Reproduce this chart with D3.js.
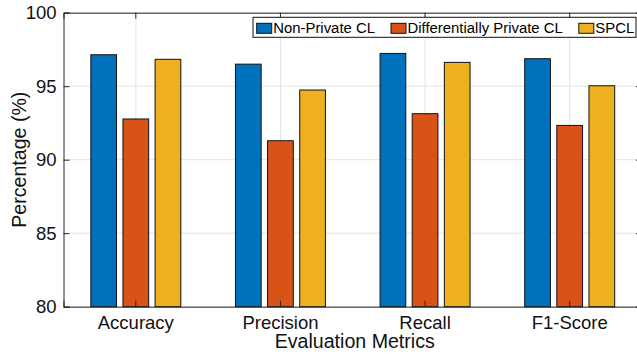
<!DOCTYPE html>
<html><head><meta charset="utf-8">
<script src="https://cdn.jsdelivr.net/npm/d3@7"></script>
<style>
html,body{margin:0;padding:0;background:#fff;}
svg{display:block;font-family:"Liberation Sans",Arial,Helvetica;}
</style></head>
<body><svg id="c" width="637" height="354"></svg>
<script>
const categories = ["Accuracy", "Precision", "Recall", "F1-Score"];
const seriesNames = ["Non-Private CL", "Differentially Private CL", "SPCL"];
const nonPrivate = [97.14, 96.5, 97.23, 96.87];
const diffPrivate = [92.77, 91.29, 93.13, 92.33];
const spcl = [96.83, 94.74, 96.62, 95.03];
const yTicks = [80, 85, 90, 95, 100];
const colors = ["#0072BD", "#D95319", "#EDB120"];
const seriesValues = [nonPrivate, diffPrivate, spcl];

const svg = d3.select("#c");
const L = 63.5, R = 642, T = 12.7, B = 306.7;
const axisCol = "#262626";
const FF = "'Liberation Sans',Arial,Helvetica";

const x = d3.scaleBand().domain(categories).range([L, R]).padding(0);
const bw = x.bandwidth();
const xs = d3.scaleBand().domain(seriesNames)
  .range([bw/2 - bw/3, bw/2 + bw/3]).paddingInner(0.2).paddingOuter(0.1);
const y = d3.scaleLinear().domain([80, 100]).range([B, T]);

// grid
const g = svg.append("g");
g.selectAll("line.hg").data(yTicks).join("line")
  .attr("x1", L).attr("x2", R).attr("y1", d => y(d)).attr("y2", d => y(d))
  .attr("stroke", "#e3e3e3").attr("stroke-width", 1);
g.selectAll("line.vg").data(categories).join("line")
  .attr("x1", d => x(d) + bw/2).attr("x2", d => x(d) + bw/2)
  .attr("y1", T).attr("y2", B)
  .attr("stroke", "#e3e3e3").attr("stroke-width", 1);

// bars
const data = [];
categories.forEach((c, i) => seriesNames.forEach((s, j) => data.push({c, s, j, v: seriesValues[j][i]})));
svg.append("g").selectAll("rect").data(data).join("rect")
  .attr("x", d => x(d.c) + xs(d.s))
  .attr("width", xs.bandwidth())
  .attr("y", d => y(d.v))
  .attr("height", d => y(80) - y(d.v))
  .attr("fill", d => colors[d.j])
  .attr("stroke", "#111").attr("stroke-width", 1);

// axes
const ax = svg.append("g");
const yAx = d3.axisLeft(y).tickValues(yTicks).tickSize(-6).tickPadding(7).tickFormat(d3.format("d"));
ax.append("g").attr("transform", `translate(${L},0)`).call(yAx)
  .call(s => { s.attr("font-family", null); s.select(".domain").attr("stroke", axisCol);
    s.selectAll(".tick line").attr("stroke", axisCol);
    s.selectAll(".tick text").attr("fill", "#111").style("font-size", "18.5px").style("font-family", FF); });
const yAxR = d3.axisRight(y).tickValues(yTicks).tickSize(-6).tickFormat("");
ax.append("g").attr("transform", `translate(${R},0)`).call(yAxR)
  .call(s => { s.select(".domain").attr("stroke", axisCol); s.selectAll(".tick line").attr("stroke", axisCol); });
const xAx = d3.axisBottom(x).tickSize(-6).tickPadding(9);
ax.append("g").attr("transform", `translate(0,${B})`).call(xAx)
  .call(s => { s.attr("font-family", null); s.select(".domain").attr("stroke", axisCol);
    s.selectAll(".tick line").attr("stroke", axisCol);
    s.selectAll(".tick text").attr("fill", "#111").style("font-size", "18.5px").style("font-family", FF); });
const xAxT = d3.axisTop(x).tickSize(-6).tickFormat("");
ax.append("g").attr("transform", `translate(0,${T})`).call(xAxT)
  .call(s => { s.select(".domain").attr("stroke", axisCol); s.selectAll(".tick line").attr("stroke", axisCol); });

// labels
svg.append("text").attr("x", (L + R) / 2 + 2).attr("y", 348)
  .attr("text-anchor", "middle").style("font-size", "19.6px").attr("fill", "#111")
  .text("Evaluation Metrics");
svg.append("text").attr("transform", `translate(26,${(T + B) / 2}) rotate(-90)`)
  .attr("text-anchor", "middle").style("font-size", "19.6px").attr("fill", "#111")
  .text("Percentage (%)");

// legend
const lg = svg.append("g");
const box = lg.append("rect").attr("x", 253).attr("y", 17.3).attr("height", 20)
  .attr("fill", "#fff").attr("stroke", "#111").attr("stroke-width", 1);
let cx = 256.7;
seriesNames.forEach((s, j) => {
  lg.append("rect").attr("x", cx).attr("y", 23.3).attr("width", 15).attr("height", 10)
    .attr("fill", colors[j]).attr("stroke", "#111").attr("stroke-width", 1);
  const t = lg.append("text").attr("x", cx + 16.5).attr("y", 33.2)
    .style("font-size", "14.9px").attr("fill", "#000").text(s);
  const w = t.node().getComputedTextLength();
  cx = cx + 16.5 + w + 16;
});
box.attr("width", Math.min(cx - 16 + 3.5 - 253, 383));
</script></body></html>
